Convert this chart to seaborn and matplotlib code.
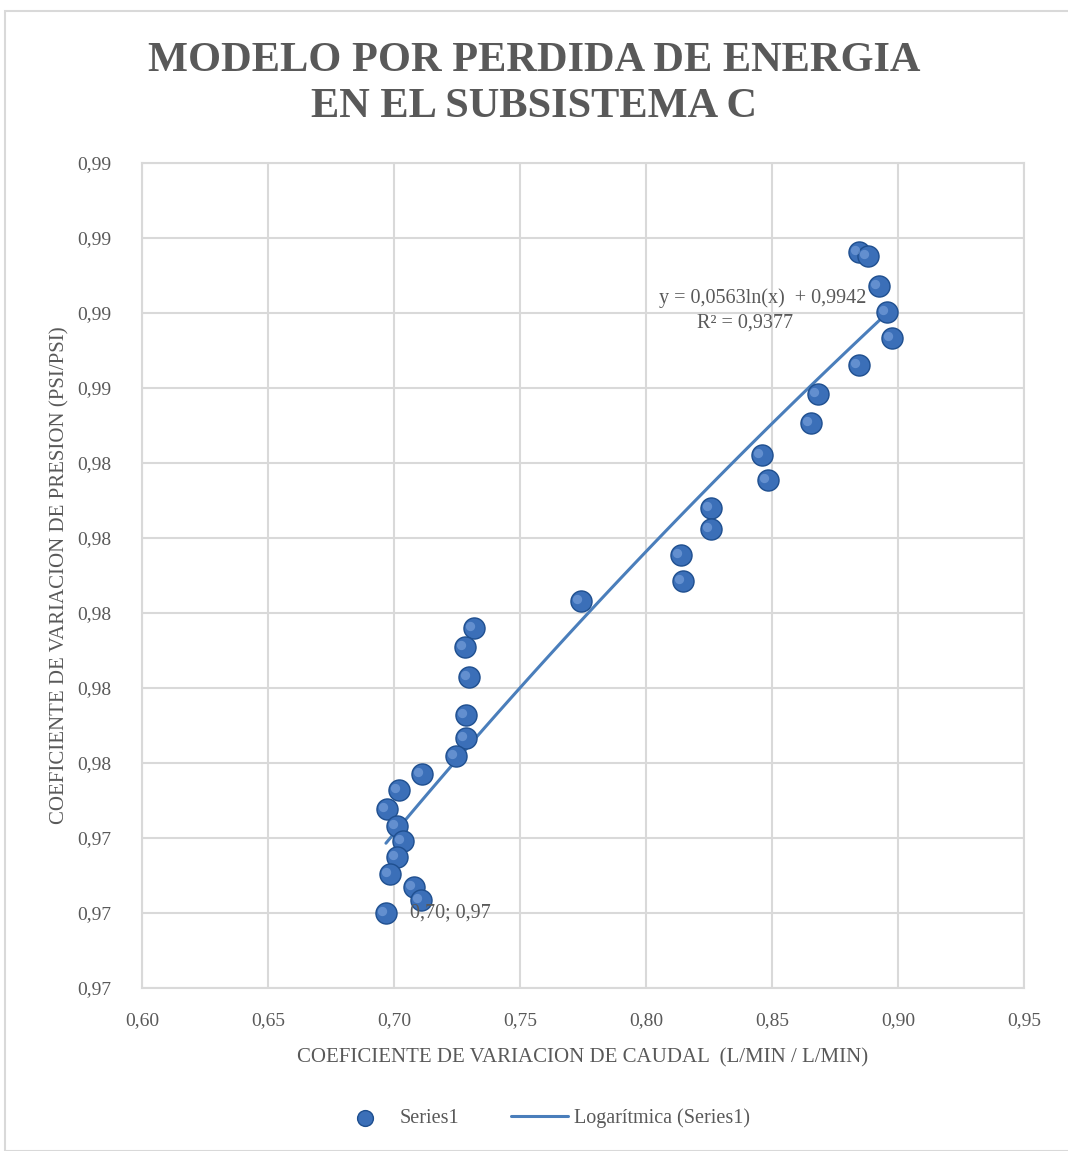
import numpy as np
import pandas as pd
import matplotlib
matplotlib.use("Agg")
import matplotlib.pyplot as plt
from matplotlib.patches import Rectangle
from matplotlib.ticker import FuncFormatter, MultipleLocator
import seaborn as sns

# ---- data ----
caudal = [0.8845, 0.8881, 0.8925, 0.8956, 0.8976, 0.8845, 0.8683, 0.8655,
          0.8460, 0.8484, 0.8258, 0.8258, 0.8139, 0.8147, 0.7742, 0.7317,
          0.7282, 0.7298, 0.7286, 0.7286, 0.7246, 0.7111, 0.7020, 0.6972,
          0.7012, 0.7036, 0.7012, 0.6984, 0.7079, 0.7107, 0.6968]
presion = [0.98963, 0.98952, 0.98872, 0.98803, 0.98733, 0.98661, 0.98584, 0.98507,
           0.98421, 0.98355, 0.98280, 0.98224, 0.98155, 0.98085, 0.98032, 0.97960,
           0.97909, 0.97829, 0.97728, 0.97667, 0.97619, 0.97571, 0.97528, 0.97477,
           0.97432, 0.97392, 0.97349, 0.97304, 0.97269, 0.97235, 0.97200]
trend_a = 0.0563
trend_b = 0.9942
r2 = 0.9377
title = "MODELO POR PERDIDA DE ENERGIA\nEN EL SUBSISTEMA C"
xlabel = "COEFICIENTE DE VARIACION DE CAUDAL  (L/MIN / L/MIN)"
ylabel = "COEFICIENTE DE VARIACION DE PRESION (PSI/PSI)"

df = pd.DataFrame({"x": caudal, "y": presion})
xt = np.linspace(min(caudal), max(caudal), 100)
trend = pd.DataFrame({"x": xt, "y": trend_a * np.log(xt) + trend_b})

sns.set_theme(style="white")
plt.rcParams["font.family"] = ["Liberation Serif", "DejaVu Serif"]

gray = "#595959"
grid = "#d9d9d9"

fig = plt.figure(figsize=(10.68, 11.51), dpi=100)
fig.patches.append(Rectangle((5 / 1068, 0.0), 1.2, 1 - 11 / 1151, transform=fig.transFigure,
                             fill=False, edgecolor=grid, linewidth=1.5))
ax = fig.add_axes([142 / 1068, 1 - 988 / 1151, (1024 - 142) / 1068, (988 - 163) / 1151])

sns.lineplot(data=trend, x="x", y="y", ax=ax, color="#4a7ebb", linewidth=2.2,
             label="Logarítmica (Series1)", zorder=2)
sns.scatterplot(data=df, x="x", y="y", ax=ax, s=230, color="#3b6fb8",
                edgecolor="#1f4f8f", linewidth=1.0, label="Series1", zorder=3)
# highlight to mimic glossy spheres
ax.scatter(df["x"] - 0.0015, df["y"] + 0.00006, s=45, color="#7ea6df", alpha=0.6,
           linewidth=0, zorder=4)

ax.set_xlim(0.60, 0.95)
ax.set_ylim(0.970, 0.992)
ax.xaxis.set_major_locator(MultipleLocator(0.05))
ax.yaxis.set_major_locator(MultipleLocator(0.002))
fmt = FuncFormatter(lambda v, p: f"{v:.2f}".replace(".", ","))
ax.xaxis.set_major_formatter(fmt)
ax.yaxis.set_major_formatter(fmt)
ax.grid(True, color=grid, linewidth=1.5)
ax.set_axisbelow(True)
for s in ax.spines.values():
    s.set_color(grid)
    s.set_linewidth(1.5)
ax.tick_params(axis="x", colors=gray, labelsize=14, length=0, pad=17)
ax.tick_params(axis="y", colors=gray, labelsize=14, length=0, pad=22)
ax.set_xlabel(xlabel, fontsize=15, color=gray, labelpad=14)
ax.set_ylabel(ylabel, fontsize=15, color=gray, labelpad=6)

ax.text(0.8873, 0.9884, "y = 0,0563ln(x)  + 0,9942", fontsize=14.5, color=gray,
        ha="right", va="center", zorder=5)
ax.text(0.8393, 0.98773, f"R² = {r2:.4f}".replace(".", ","), fontsize=14.5, color=gray,
        ha="center", va="center", zorder=5)
ax.text(0.7063, presion[-1], "0,70; 0,97", fontsize=14.5, color=gray,
        ha="left", va="center", zorder=5)

fig.suptitle(title, y=1 - 42 / 1151, va="top", fontsize=30.5, fontweight="bold",
             color=gray, linespacing=1.28)

h, l = ax.get_legend_handles_labels()
order = [1, 0]
leg = ax.legend([h[i] for i in order], [l[i] for i in order], loc="center",
                bbox_to_anchor=(0.455, -0.158), ncol=2, frameon=False, fontsize=14.5,
                labelcolor=gray, handlelength=2.8, handletextpad=0.3, columnspacing=2.6,
                markerscale=0.75)

fig.savefig("out.png", dpi=100)
